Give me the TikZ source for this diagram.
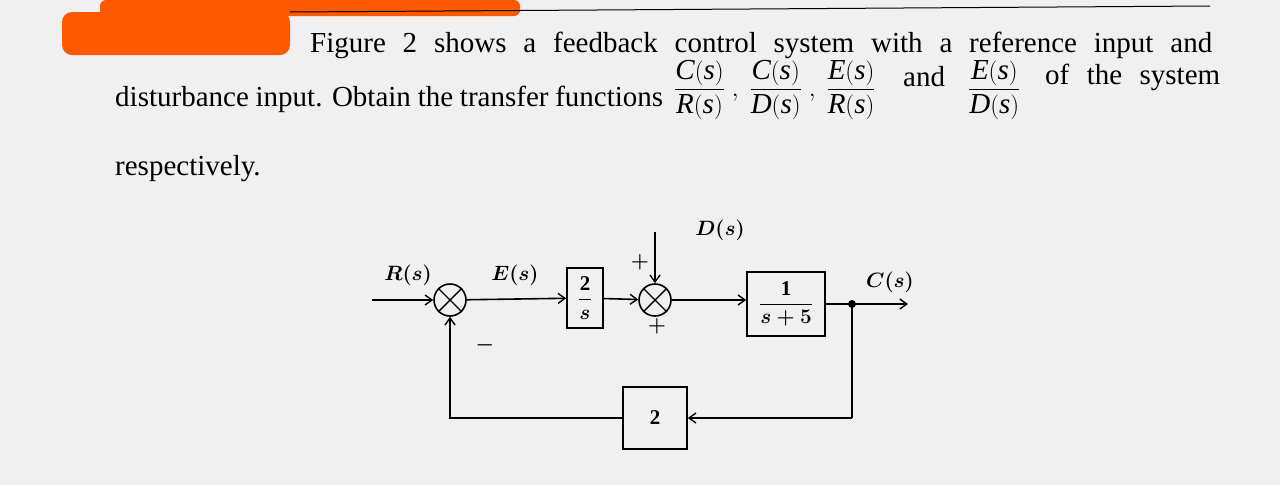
\documentclass[tikz,border=0pt]{standalone}
\usepackage{amsmath}
\usepackage{fontspec}
\setmainfont{Liberation Serif}
\usetikzlibrary{arrows.meta}
\newcommand{\vv}[1]{\textit{#1}}
\begin{document}
\begin{tikzpicture}[x=1pt,y=-1pt,
  txt/.style={font=\fontsize{29}{32}\selectfont,anchor=base west,inner sep=0},
  dtxt/.style={font=\fontsize{20}{22}\selectfont\bfseries\itshape,inner sep=0},
  blk/.style={draw,line width=1.6pt,minimum width=36pt,inner sep=2pt,font=\fontsize{21}{24}\selectfont\bfseries},
  sumc/.style={draw,circle,line width=1.6pt,minimum size=32pt,inner sep=0},
  sig/.style={line width=1.6pt,-{Straight Barb[length=7pt,width=10pt,line width=1.4pt]}},
  ln/.style={line width=1.6pt}]
\useasboundingbox (0,0) rectangle (1280,485);
\fill[gray!12] (0,0) rectangle (1280,485);
% redaction blob
\fill[orange!70!red,rounded corners=6pt] (100,0) rectangle (520,16);
\fill[orange!70!red,rounded corners=10pt] (62,12) rectangle (290,55);
\draw[line width=1pt] (290,12) -- (1210,6);
% text
\node[txt] (t1) at (310,52) {\makebox[902pt][s]{Figure 2 shows a feedback control system with a reference input and}};
\node[txt] (t2) at (115,106) {\makebox[548pt][s]{disturbance input. Obtain the transfer functions}};
\node[txt] (t3) at (674,96) {$\dfrac{\vv{C}(\vv{s})}{\vv{R}(\vv{s})}\;,\;\dfrac{\vv{C}(\vv{s})}{\vv{D}(\vv{s})}\;,\;\dfrac{\vv{E}(\vv{s})}{\vv{R}(\vv{s})}$};
\node[txt] (and) at (903,86) {and};
\node[txt] (t3b) at (968,96) {$\dfrac{\vv{E}(\vv{s})}{\vv{D}(\vv{s})}$};
\node[txt] (t4) at (1045,84) {\makebox[175pt][s]{of the system}};
\node[txt] (t5) at (115,175) {respectively.};
% diagram
\node[sumc] (s1) at (450,300) {};
\draw[line width=1.4pt] (s1.north west)--(s1.south east) (s1.north east)--(s1.south west);
\node[blk,minimum height=60pt] (g1) at (585,298) {$\dfrac{\mathbf{2}}{\boldsymbol{s}}$};
\node[sumc] (s2) at (655,300) {};
\draw[line width=1.4pt] (s2.north west)--(s2.south east) (s2.north east)--(s2.south west);
\node[blk,minimum width=78pt,minimum height=64pt] (g2) at (786,304) {$\dfrac{\mathbf{1}}{\boldsymbol{s+5}}$};
\node[blk,minimum width=64pt,minimum height=62pt] (h) at (655,418) {2};
\coordinate (rin) at (372,300);
\coordinate (br) at (852,304);
\coordinate (cout) at (908,304);
\coordinate (dtop) at (655,232);
\coordinate (fb1) at (852,418);
\coordinate (fb2) at (462,418);
\draw[sig] (rin) -- (s1);
\draw[sig] (s1) -- (g1);
\draw[sig] (g1) -- (s2);
\draw[sig] (dtop) -- (s2);
\draw[sig] (s2) -- (g2.west |- s2);
\draw[ln] (g2.east |- br) -- (br);
\draw[sig] (br) -- (cout);
\fill (br) circle (4pt);
\draw[ln] (br) -- (fb1);
\draw[sig] (fb1) -- (h);
\draw[ln] (h) -- (fb2);
\draw[sig] (fb2) -| (s1);
\node[dtxt] (lr) at (408,275) {$\boldsymbol{R(s)}$};
\node[dtxt] (le) at (515,275) {$\boldsymbol{E(s)}$};
\node[dtxt] (ld) at (720,230) {$\boldsymbol{D(s)}$};
\node[dtxt] (lc) at (890,282) {$\boldsymbol{C(s)}$};
\node[dtxt] (p1) at (640,262) {$\boldsymbol{+}$};
\node[dtxt] (p2) at (657,326) {$\boldsymbol{+}$};
\node[dtxt] (m1) at (485,345) {$\boldsymbol{-}$};
\end{tikzpicture}
\end{document}
